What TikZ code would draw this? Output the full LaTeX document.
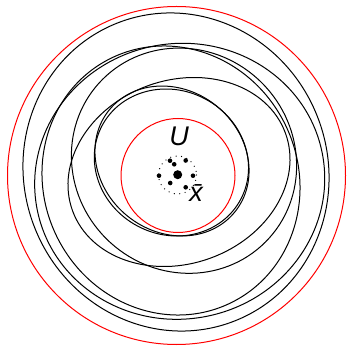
\documentclass[tikz,border=0pt]{standalone}
\usepackage{fontspec}
\setmainfont{Liberation Sans}
\begin{document}
\begin{tikzpicture}[x=1pt,y=-1pt,
  loop/.style={draw=black, line width=1pt},
  redloop/.style={draw=red, line width=1pt},
  bigdot/.style={circle, fill=black, inner sep=0pt, minimum size=9pt},
  middot/.style={circle, fill=black, inner sep=0pt, minimum size=4.6pt},
  lbl/.style={inner sep=0pt, font=\fontsize{27}{30}\selectfont\itshape}]
\useasboundingbox (0,0) rectangle (348,347);
% red circles
\draw[redloop] (176.5,175.5) circle[radius=169];
\draw[redloop] (178,175.5) circle[radius=57];
% black loops
\draw[loop, rotate around={-68.5:(176,172)}] (176,172) ellipse[x radius=160.1, y radius=151.9];
\draw[loop, rotate around={11.3:(179.7,181.3)}] (179.7,181.3) ellipse[x radius=145.3, y radius=137.7];
\draw[loop, rotate around={-63.8:(171,180.5)}] (171,180.5) ellipse[x radius=136.2, y radius=127.2];
\draw[loop, rotate around={-45:(184,160.7)}] (184,160.7) ellipse[x radius=115.1, y radius=110.1];
\draw[loop, rotate around={20:(179,172)}] (179,172) ellipse[x radius=113.3, y radius=91.7];
\draw[loop, rotate around={-39:(172,161)}] (172,161) ellipse[x radius=80.9, y radius=70.8];
\draw[loop, rotate around={-28:(171.4,162.5)}] (171.4,162.5) ellipse[x radius=78.5, y radius=72];
% dotted ring
\draw[line width=1.3pt, line cap=round, dash pattern=on 0pt off 5.5pt] (177.5,175) circle[radius=19];
% dots
\node[bigdot] (c0) at (177.7,174.7) {};
\node[middot] (d1) at (170,160.7) {};
\node[middot] (d2) at (174.2,164.3) {};
\node[middot] (d3) at (185.7,160.5) {};
\node[middot] (d4) at (159,175.7) {};
\node[middot] (d5) at (193,175.7) {};
\node[middot] (d6) at (170.2,183) {};
\node[middot] (d7) at (185.7,187.3) {};
% labels
\node[lbl] (U) at (179,136.5) {U};
\node[lbl, anchor=base] (xbar) at (196,201.7) {\={x}};
\end{tikzpicture}
\end{document}
